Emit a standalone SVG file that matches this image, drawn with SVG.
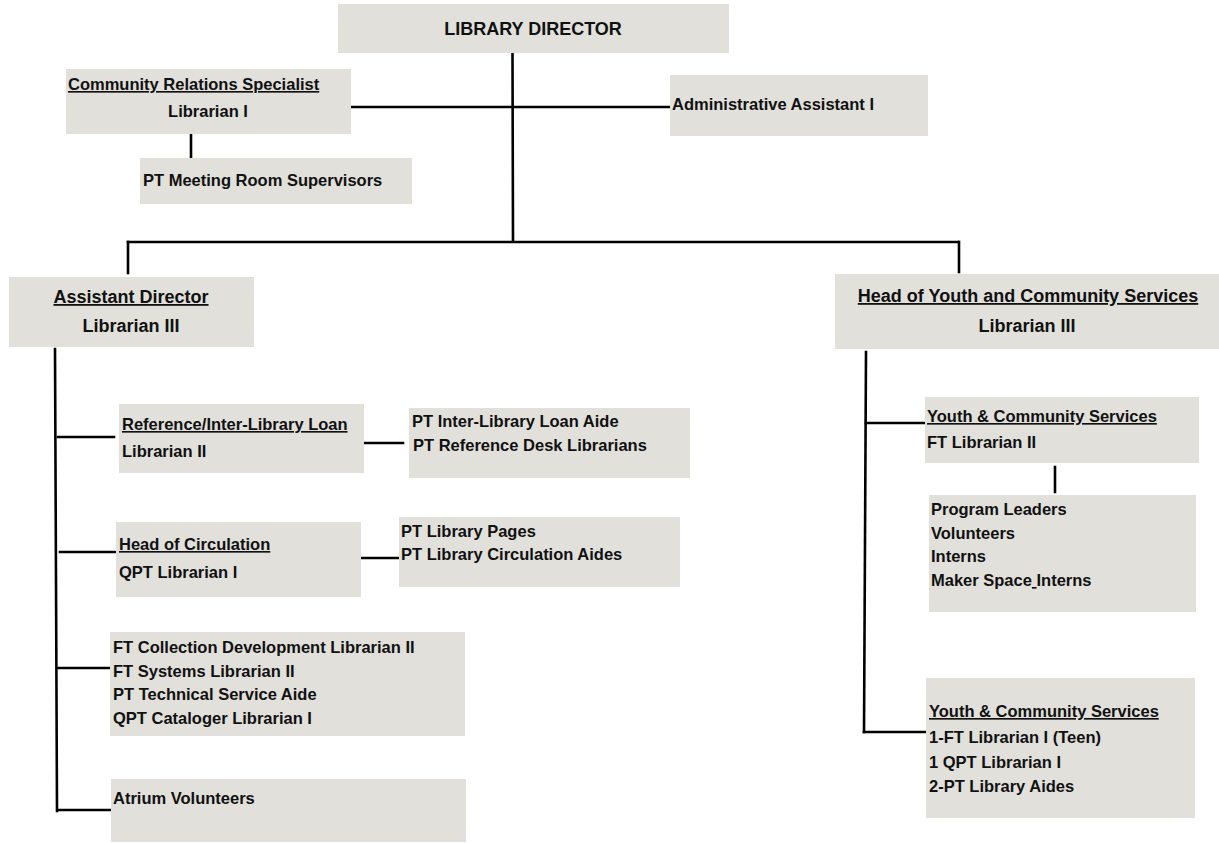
<svg xmlns="http://www.w3.org/2000/svg" width="1219" height="843" viewBox="0 0 1219 843">
<style>
.box{fill:#E1E0DB}
text{font-family:"Liberation Sans",Arial,sans-serif;font-weight:bold;fill:#111;font-size:16.5px}
.h{font-size:18px}
.u{text-decoration:underline}
.c{text-anchor:middle}
.ln{stroke:#000;stroke-width:2.6;fill:none;stroke-linecap:square}
</style>
<rect width="1219" height="843" fill="#fff"/>
<g id="connectors">
<line class="ln" x1="512.5" y1="54" x2="513" y2="240"/>
<line class="ln" x1="352" y1="107" x2="669" y2="107"/>
<line class="ln" x1="191" y1="135" x2="191" y2="157"/>
<line class="ln" x1="128" y1="242" x2="958" y2="242"/>
<line class="ln" x1="128" y1="242" x2="128" y2="273"/>
<line class="ln" x1="959" y1="242" x2="959" y2="272"/>
<line class="ln" x1="55" y1="349" x2="57" y2="811"/>
<line class="ln" x1="58" y1="437" x2="114" y2="437"/>
<line class="ln" x1="365" y1="443" x2="403" y2="443"/>
<line class="ln" x1="60" y1="552" x2="116" y2="552"/>
<line class="ln" x1="362" y1="558" x2="398" y2="558"/>
<line class="ln" x1="58" y1="668" x2="109" y2="668"/>
<line class="ln" x1="58" y1="810" x2="110" y2="810"/>
<line class="ln" x1="866" y1="352" x2="864" y2="732"/>
<line class="ln" x1="866" y1="423" x2="924" y2="423"/>
<line class="ln" x1="1055" y1="467" x2="1055" y2="492"/>
<line class="ln" x1="864" y1="732" x2="925" y2="732"/>
</g>
<g id="director">
<rect class="box" x="338" y="4" width="391" height="49"/>
<text class="h c" x="533" y="35">LIBRARY DIRECTOR</text>
</g>
<g id="community-relations">
<rect class="box" x="66" y="69" width="285" height="65"/>
<text class="u" x="68" y="90">Community Relations Specialist</text>
<text class="c" x="208" y="117">Librarian I</text>
</g>
<g id="meeting-room">
<rect class="box" x="140" y="158" width="272" height="46"/>
<text x="143" y="186">PT Meeting Room Supervisors</text>
</g>
<g id="admin-assistant">
<rect class="box" x="670" y="75" width="258" height="61"/>
<text x="672" y="110">Administrative Assistant I</text>
</g>
<g id="assistant-director">
<rect class="box" x="9" y="277" width="245" height="70"/>
<text class="h c u" x="131" y="303">Assistant Director</text>
<text class="h c" x="131" y="332">Librarian III</text>
</g>
<g id="head-youth">
<rect class="box" x="835" y="274" width="384" height="75"/>
<text class="h c u" x="1028" y="302">Head of Youth and Community Services</text>
<text class="h c" x="1027" y="332">Librarian III</text>
</g>
<g id="reference">
<rect class="box" x="119" y="404" width="245" height="69"/>
<text class="u" x="122" y="430">Reference/Inter-Library Loan</text>
<text x="122" y="457">Librarian II</text>
</g>
<g id="pt-ill">
<rect class="box" x="409" y="408" width="281" height="70"/>
<text x="412" y="427">PT Inter-Library Loan Aide</text>
<text x="413" y="451">PT Reference Desk Librarians</text>
</g>
<g id="circulation">
<rect class="box" x="116" y="522" width="245" height="75"/>
<text class="u" x="119" y="550">Head of Circulation</text>
<text x="119" y="578">QPT Librarian I</text>
</g>
<g id="pt-pages">
<rect class="box" x="399" y="517" width="281" height="70"/>
<text x="401" y="537">PT Library Pages</text>
<text x="401" y="560">PT Library Circulation Aides</text>
</g>
<g id="technical">
<rect class="box" x="110" y="632" width="355" height="104"/>
<text x="113" y="653">FT Collection Development Librarian II</text>
<text x="113" y="677">FT Systems Librarian II</text>
<text x="113" y="700">PT Technical Service Aide</text>
<text x="113" y="724">QPT Cataloger Librarian I</text>
</g>
<g id="atrium">
<rect class="box" x="111" y="779" width="355" height="63"/>
<text x="113" y="804">Atrium Volunteers</text>
</g>
<g id="youth-services-1">
<rect class="box" x="925" y="397" width="274" height="66"/>
<text class="u" x="927" y="422">Youth &amp; Community Services</text>
<text x="927" y="448">FT Librarian II</text>
</g>
<g id="program">
<rect class="box" x="929" y="495" width="267" height="117"/>
<text x="931" y="515">Program Leaders</text>
<text x="931" y="539">Volunteers</text>
<text x="931" y="562">Interns</text>
<text x="931" y="586">Maker Space<tspan class="u"> </tspan>Interns</text>
</g>
<g id="youth-services-2">
<rect class="box" x="926" y="678" width="269" height="140"/>
<text class="u" x="929" y="717">Youth &amp; Community Services</text>
<text x="929" y="743">1-FT Librarian I (Teen)</text>
<text x="929" y="768">1 QPT Librarian I</text>
<text x="929" y="792">2-PT Library Aides</text>
</g>
</svg>
